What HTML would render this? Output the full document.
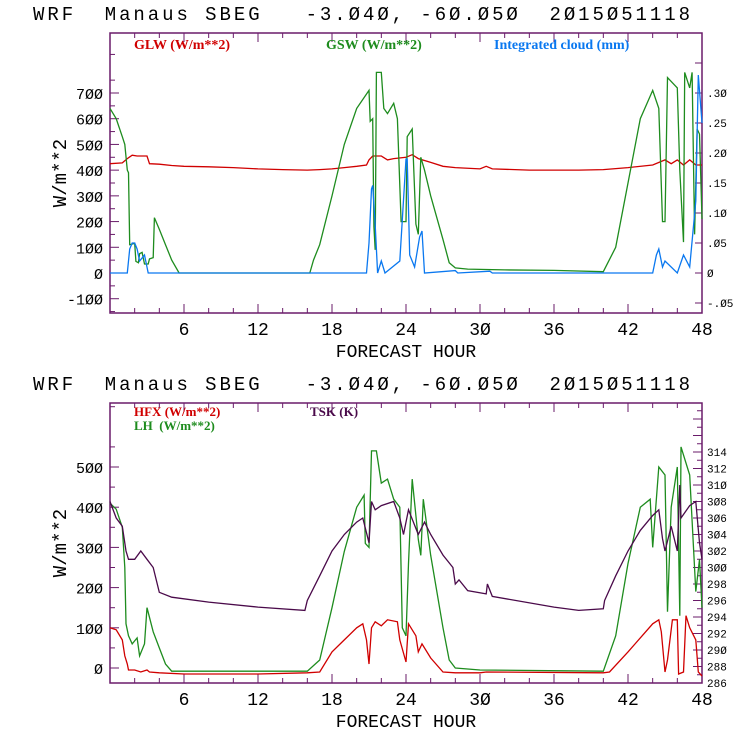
<!DOCTYPE html>
<html><head><meta charset="utf-8"><style>
body{margin:0;background:#fff;}
svg{display:block;font-family:"Liberation Mono",monospace;}
</style></head><body>
<svg id="c" width="740" height="740" viewBox="0 0 740 740"></svg>
<script>
const glwH=[0,1,1.4,1.8,2.2,3,3.2,4,5,6,8,10,12,14,16,17,18,19,20,20.8,21,21.3,22,22.5,23,24,24.5,25,26,27,28,30,30.5,31,34,38,40,42,44,45,45.5,46,46.5,47,47.5,48];
const glwV=[425,428,445,458,455,455,425,423,418,415,413,410,405,402,400,402,405,410,415,420,440,455,455,440,445,450,460,445,430,415,410,405,415,405,400,400,402,410,420,440,425,440,420,440,420,420];
const gswH=[0,0.5,1,1.2,1.4,1.5,1.6,2,2.1,2.3,2.4,2.6,2.8,3.1,3.2,3.5,3.6,4,4.5,5,5.6,16.2,16.5,17,18,19,20,21,21.1,21.3,21.4,21.5,21.6,22,22.2,22.5,23,23.3,23.6,24,24.1,24.5,24.8,25,25.2,25.5,26,27,27.5,28,29,32,36,40,41,42,43,44,44.5,44.8,45,45.2,46,46.2,46.5,46.6,47,47.2,47.4,47.6,47.8,48];
const gswV=[640,600,530,500,400,390,110,115,45,40,75,80,35,35,55,60,215,170,110,50,0,0,50,110,300,500,640,710,590,600,180,90,780,780,640,620,660,600,200,200,530,560,190,150,450,400,300,130,40,20,15,12,10,5,100,350,600,710,640,200,200,760,720,400,120,780,720,780,150,560,540,210];
const cldH=[0,1.4,1.6,1.8,2,2.2,2.4,2.8,3.1,20.8,21,21.2,21.3,21.5,21.7,22,22.3,23.5,24,24.1,24.3,24.7,25.1,25.3,25.5,28,28.2,30.8,31,44,44.3,44.5,44.8,45,46,46.5,47,47.5,47.7,48];
const cldV=[0,0,0.04,0.05,0.05,0.04,0.02,0.03,0,0,0.05,0.14,0.146,0.08,0,0.02,0,0.02,0.19,0.19,0.03,0.01,0.06,0.07,0,0.004,0,0.003,0,0,0.03,0.04,0.01,0.02,0,0.03,0.01,0.12,0.33,0.25];
const hfxH=[0,0.5,1,1.2,1.4,1.5,2,2.5,3,3.2,4,6,12,16,17,18,19,20,20.5,20.8,21,21.2,21.5,22,22.5,23.3,23.5,24,24.2,24.8,25,25.3,26,27,28,30,30.5,40,40.5,42,44,44.5,44.7,45,45.2,45.6,46,46.1,46.5,46.7,47,47.5,47.7,48];
const hfxV=[100,95,70,30,10,-5,-5,-10,-5,-10,-12,-15,-15,-12,-10,40,70,100,110,70,10,100,115,105,120,115,70,15,110,80,40,60,25,-10,-12,-12,-10,-12,-10,40,110,120,90,-10,20,120,120,-15,-10,130,100,70,-10,-20];
const lhH=[0,0.5,1,1.2,1.3,1.5,1.8,2.2,2.4,2.8,3,3.5,4,4.5,5,16,17,18,19,20,20.6,20.7,21,21.2,21.6,22,22.5,23,23.5,23.7,24,24.2,24.5,25,25.2,25.4,26,27,27.5,28,30,40,41,42,43,43.8,44,44.5,45,45.2,45.5,46,46.2,46.3,47,47.5,47.8,48];
const lhV=[410,395,350,250,110,80,60,75,30,60,150,90,50,10,-8,-8,20,150,290,400,430,310,300,540,540,460,470,420,400,100,80,260,470,320,280,420,280,100,20,0,-5,-8,80,260,400,420,300,500,480,140,400,500,130,550,480,190,270,150];
const tskH=[0,0.5,1,1.3,1.5,2,2.5,3,3.5,4,5,8,12,15.8,16,17,18,19,20,20.5,21,21.2,21.5,22,23,23.5,23.8,24.2,25,25.5,26,27,27.8,28,28.3,29,30.5,30.6,31,36,38,40,40.1,41,42,43,44,44.5,44.8,45,45.5,46,46.2,46.3,47,47.5,47.8,48];
const tskV=[308,306,305,302,301,301,302,301,300,297,296.4,295.8,295.2,294.8,296,299,302,304,305.5,306,303,308,307,307.5,308,306,304,307,304,305.5,304,301.5,300,298,298.5,297.2,296.8,298,296.5,295.2,294.8,295,296,299,302,304.5,306.3,307,303.5,302,305,302,310,306,307.5,308,303,301];
const xTicks=[6,12,18,24,30,36,42,48];
const topLeftTicks=[-100,0,100,200,300,400,500,600,700];
const topRightTicks=[-0.05,0,0.05,0.10,0.15,0.20,0.25,0.30];
const botLeftTicks=[0,100,200,300,400,500];
const botRightTicks=[286,288,290,292,294,296,298,300,302,304,306,308,310,312,314];

const svg=document.getElementById('c');const NS='http://www.w3.org/2000/svg';
function mk(t,a,p){const e=document.createElementNS(NS,t);for(const k in a)e.setAttribute(k,a[k]);(p||svg).appendChild(e);return e;}
const X0=110,X1=702;
const xs=h=>X0+(X1-X0)*h/48;
function txt(s,x,y,a){const e=mk('text',Object.assign({x:x,y:y},a));e.textContent=s;return e;}
function line(hs,vs,ys,col,name){let d='';hs.forEach((h,i)=>{d+=(i?'L':'M')+xs(h).toFixed(1)+','+ys(vs[i]).toFixed(1);});const p=mk('path',{d:d,fill:'none',stroke:col,'stroke-width':1.3});

}
function panel(top,bot,frameCol,pre){
  const g=mk('rect',{x:X0,y:top,width:X1-X0,height:bot-top,fill:'none',stroke:frameCol,'stroke-width':1.5});
  
  
  for(let h=2;h<48;h+=2){const L=(h%6==0)?9:5;mk('line',{x1:xs(h),x2:xs(h),y1:bot,y2:bot-L,stroke:frameCol});mk('line',{x1:xs(h),x2:xs(h),y1:top,y2:top+L,stroke:frameCol});}
  xTicks.forEach(h=>{const t=txt(String(h).replace(/0/g,'Ø'),xs(h),bot+22,{'text-anchor':'middle','font-size':18,fill:'#000'});
    
    });
  const xl=txt('FORECAST HOUR',406,bot+44,{'text-anchor':'middle','font-size':18,fill:'#000'});
  
  
  const tl=txt('WRF  Manaus SBEG   -3.Ø4Ø, -6Ø.Ø5Ø  2Ø15Ø51118',33,top-13,{'font-size':19,fill:'#000',style:'white-space:pre',textLength:657,lengthAdjust:'spacing'});
  
  
  const yl=txt('W/m**2',0,0,{'font-size':19,fill:'#000','text-anchor':'middle',transform:'translate(66,'+((top+bot)/2)+') rotate(-90)'});
  
  
}
function fmt(v){return String(v).replace(/0/g,'Ø');}
// top panel
const T0=33,T1=313;
panel(T0,T1,'#6a1b6a','top');
const yT=v=>273-v*180/700;
const yTr=v=>273-v*180/0.30;
topLeftTicks.forEach(v=>{mk('line',{x1:X0,x2:X0+9,y1:yT(v),y2:yT(v),stroke:'#6a1b6a'});const t=txt(fmt(v),X0-7,yT(v)+6,{'text-anchor':'end','font-size':15,fill:'#000'});
  });
for(let v=-150;v<=900;v+=50){if(v%100&&yT(v)>T0&&yT(v)<T1)mk('line',{x1:X0,x2:X0+5,y1:yT(v),y2:yT(v),stroke:'#6a1b6a'});}
for(let v=-0.05;v<=0.40;v+=0.05){const y=yTr(v);if(y>T0&&y<T1)mk('line',{x1:X1,x2:X1-7,y1:y,y2:y,stroke:'#6a1b6a'});}
topRightTicks.forEach(v=>{let s=v.toFixed(2).replace(/^(-?)0/,'$1').replace(/0/g,'Ø');if(v===0)s='Ø';const t=txt(s,X1+5,yTr(v)+4,{'font-size':11,fill:'#000'});
  });
line(glwH,glwV,yT,'#d00000','glw-line');
line(gswH,gswV,yT,'#1e8c1e','gsw-line');
line(cldH,cldV,yTr,'#0a78f0','cloud-line');
const lg=[['GLW (W/m**2)',134,'#d00000','glw'],['GSW (W/m**2)',326,'#1e8c1e','gsw'],['Integrated cloud (mm)',494,'#0a78f0','cloud']];
lg.forEach(l=>{const t=txt(l[0],l[1],49,{'font-family':'Liberation Serif,serif','font-weight':'bold','font-size':14,fill:l[2]});
  });
// bottom panel
const B0=403,B1=683;
panel(B0,B1,'#6a1b6a','bottom');
const yB=v=>668-v*0.402;
const yBr=v=>683-(v-286)*8.25;
botLeftTicks.forEach(v=>{mk('line',{x1:X0,x2:X0+9,y1:yB(v),y2:yB(v),stroke:'#6a1b6a'});const t=txt(fmt(v),X0-7,yB(v)+6,{'text-anchor':'end','font-size':15,fill:'#000'});
  });
for(let v=-50;v<=650;v+=50){if(v%100&&yB(v)>B0&&yB(v)<B1)mk('line',{x1:X0,x2:X0+5,y1:yB(v),y2:yB(v),stroke:'#6a1b6a'});}
for(let v=286;v<=319;v+=1){const y=yBr(v);if(y>B0&&y<B1)mk('line',{x1:X1,x2:X1-(v%2?5:9),y1:y,y2:y,stroke:'#6a1b6a'});}
botRightTicks.forEach(v=>{const t=txt(fmt(v),X1+5,yBr(v)+4,{'font-size':11,fill:'#000'});
  });
line(lhH,lhV,yB,'#1e8c1e','lh-line');
line(hfxH,hfxV,yB,'#d00000','hfx-line');
line(tskH,tskV,yBr,'#4a0a4a','tsk-line');
const lg2=[['HFX (W/m**2)',134,416,'#d00000','hfx'],['LH  (W/m**2)',134,430,'#1e8c1e','lh'],['TSK (K)',310,416,'#4a0a4a','tsk']];
lg2.forEach(l=>{const t=txt(l[0],l[1],l[2],{'font-family':'Liberation Serif,serif','font-weight':'bold','font-size':13,fill:l[3],style:'white-space:pre'});
  });
</script>
</body></html>
